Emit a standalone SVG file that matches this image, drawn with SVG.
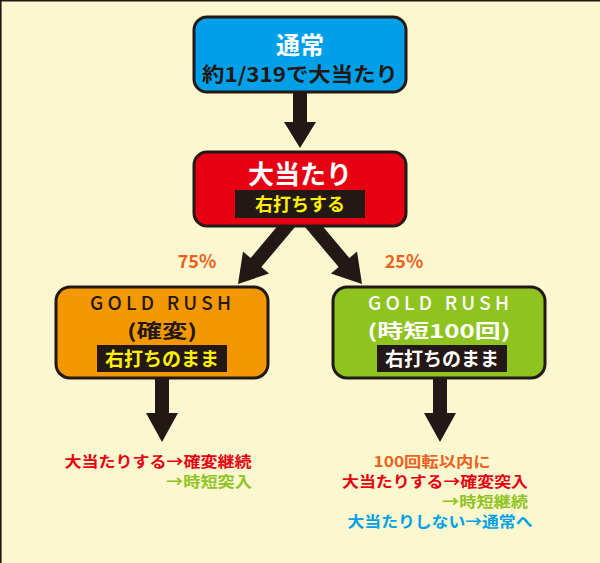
<svg xmlns="http://www.w3.org/2000/svg" width="600" height="563" viewBox="0 0 600 563">
<style>
text{font-family:"Noto Sans CJK JP","Noto Sans",sans-serif;text-anchor:middle;font-weight:700}
.box{stroke:#231815;stroke-width:3}
.lab{fill:#231815}
.arr{fill:#231815}
.gold{font-weight:500;font-size:19px;letter-spacing:3px}
.red{fill:#e60012}.grn{fill:#8fc31f}.org{fill:#eb6120}.blu{fill:#00a0e9}
</style>
<rect x="0" y="0" width="600" height="563" fill="#fbf7cf"/>
<path d="M0.8,563 V0.8 H600" fill="none" stroke="#231815" stroke-width="1.6"/>
<g id="connectors">
<polygon class="arr" transform="translate(300,148)" points="-7,-60 7,-60 7,-26 16,-26 0,0 -16,-26 -7,-26"/>
<polygon class="arr" transform="translate(238,284) rotate(40)" points="-7,-95 7,-95 7,-28 17,-28 0,0 -17,-28 -7,-28"/>
<polygon class="arr" transform="translate(362,284) rotate(-40)" points="-7,-95 7,-95 7,-28 17,-28 0,0 -17,-28 -7,-28"/>
<polygon class="arr" transform="translate(162,442)" points="-7,-66 7,-66 7,-29 16,-29 0,0 -16,-29 -7,-29"/>
<polygon class="arr" transform="translate(440,442)" points="-7,-66 7,-66 7,-29 16,-29 0,0 -16,-29 -7,-29"/>
</g>
<g id="node-normal">
<rect class="box" x="194" y="17" width="212" height="75" rx="13" fill="#00a0e9"/>
<text x="300" y="54" font-size="24" fill="#fff">通常</text>
<text x="300" y="82" font-size="20" fill="#231815" textLength="196" lengthAdjust="spacingAndGlyphs">約1/319で大当たり</text>
</g>
<g id="node-hit">
<rect class="box" x="194" y="152" width="212" height="74" rx="13" fill="#e60012"/>
<text x="300" y="184" font-size="26" fill="#fff">大当たり</text>
<rect class="lab" x="235" y="190" width="130" height="28"/>
<text x="300" y="211" font-size="18" fill="#fff100">右打ちする</text>
</g>
<g id="label-75"><text x="197" y="268" font-size="18" font-weight="500" fill="#eb6120">75%</text></g>
<g id="label-25"><text x="404" y="268" font-size="18" font-weight="500" fill="#eb6120">25%</text></g>
<g id="node-kakuhen">
<rect class="box" x="56" y="287" width="212" height="91" rx="14" fill="#f39800"/>
<text class="gold" x="162" y="310" fill="#231815" textLength="144">GOLD RUSH</text>
<text x="162" y="338" font-size="19" font-weight="500" fill="#231815" textLength="70" lengthAdjust="spacingAndGlyphs">(確変)</text>
<rect class="lab" x="97" y="345" width="130" height="27"/>
<text x="162" y="366" font-size="19" font-weight="500" fill="#fff100">右打ちのまま</text>
</g>
<g id="node-jitan">
<rect class="box" x="333" y="287" width="212" height="91" rx="14" fill="#8fc31f"/>
<text class="gold" x="440" y="310" fill="#fff" textLength="144">GOLD RUSH</text>
<text x="439" y="338" font-size="19" font-weight="500" fill="#fff" textLength="143" lengthAdjust="spacingAndGlyphs">(時短100回)</text>
<rect class="lab" x="377" y="345" width="130" height="27"/>
<text x="442" y="366" font-size="19" font-weight="500" fill="#fff">右打ちのまま</text>
</g>
<g id="result-left">
<text class="red" x="158" y="467" font-size="15" textLength="187" lengthAdjust="spacingAndGlyphs">大当たりする→確変継続</text>
<text class="grn" x="252" y="487" font-size="15" style="text-anchor:end" textLength="86" lengthAdjust="spacingAndGlyphs">→時短突入</text>
</g>
<g id="result-right">
<text class="org" x="432" y="467" font-size="15" textLength="117" lengthAdjust="spacingAndGlyphs">100回転以内に</text>
<text class="red" x="435" y="487" font-size="15" textLength="186" lengthAdjust="spacingAndGlyphs">大当たりする→確変突入</text>
<text class="grn" x="528" y="507" font-size="15" style="text-anchor:end" textLength="86" lengthAdjust="spacingAndGlyphs">→時短継続</text>
<text class="blu" x="440" y="527" font-size="15" textLength="185" lengthAdjust="spacingAndGlyphs">大当たりしない→通常へ</text>
</g>
</svg>
